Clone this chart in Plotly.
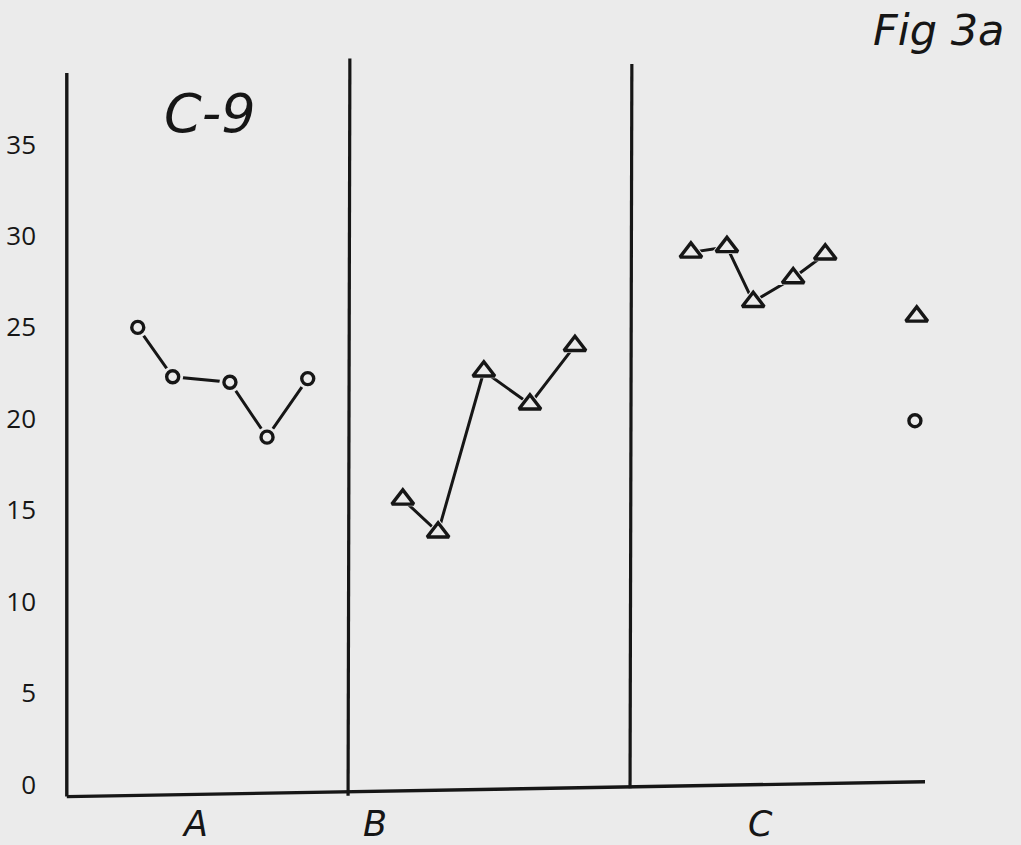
import plotly.graph_objects as go

# ---- data ----
categories = ["A", "B", "C"]
category_pos = [3.56, 8.56, 19.25]
y_ticks = [0, 5, 10, 15, 20, 25, 30, 35]

a_x = [1.97, 2.94, 4.53, 5.56, 6.69]
a_y = [25.0, 22.3, 22.0, 19.0, 22.2]

b_x = [9.33, 10.31, 11.58, 12.86, 14.11]
b_y = [15.6, 13.8, 22.6, 20.8, 24.0]

c_x = [17.33, 18.33, 19.06, 20.17, 21.06]
c_y = [29.1, 29.4, 26.4, 27.7, 29.0]

c_lone_tri_x = [23.6]
c_lone_tri_y = [25.6]
c_lone_circ_x = [23.55]
c_lone_circ_y = [19.9]

dividers = [7.86, 15.69]

BG = "#ebebeb"
INK = "#161616"
FONT = "DejaVu Sans"
TICKFONT = "Open Sans"

fig = go.Figure()


def add_series(x, y, symbol, size, connect=True):
    if connect:
        fig.add_trace(go.Scatter(x=x, y=y, mode="lines",
                                 line=dict(color=INK, width=3),
                                 cliponaxis=False,
                                 hoverinfo="skip", showlegend=False))
    # halo to leave a small gap between line and marker
    fig.add_trace(go.Scatter(x=x, y=y, mode="markers",
                             marker=dict(symbol=symbol, size=size + 9, color=BG,
                                         line=dict(width=0)),
                             cliponaxis=False,
                             hoverinfo="skip", showlegend=False))
    fig.add_trace(go.Scatter(x=x, y=y, mode="markers",
                             marker=dict(symbol=symbol, size=size, color=BG,
                                         line=dict(color=INK, width=3.4)),
                             cliponaxis=False,
                             showlegend=False))


add_series(a_x, a_y, "circle", 12)
add_series(b_x, b_y, "triangle-up", 19)
add_series(c_x, c_y, "triangle-up", 19)
add_series(c_lone_tri_x, c_lone_tri_y, "triangle-up", 19, connect=False)
add_series(c_lone_circ_x, c_lone_circ_y, "circle", 12, connect=False)

shapes = []
# left axis line
shapes.append(dict(type="line", x0=0, x1=0, y0=-0.65, y1=38.9,
                   line=dict(color=INK, width=3.4)))
# divider lines
shapes.append(dict(type="line", x0=dividers[0] - 0.05, x1=dividers[0], y0=-0.6, y1=39.7,
                   line=dict(color=INK, width=3.2)))
shapes.append(dict(type="line", x0=dividers[1] - 0.05, x1=dividers[1], y0=-0.2, y1=39.4,
                   line=dict(color=INK, width=3.2)))
# baseline (slightly slanted, as drawn)
shapes.append(dict(type="line", x0=0, x1=23.83, y0=-0.65, y1=0.16,
                   line=dict(color=INK, width=3.4)))

# condition labels under the baseline
annotations = [
    dict(text=lab, x=xp, y=-0.028, xref="x", yref="paper", showarrow=False,
         xanchor="center", yanchor="middle",
         font=dict(family=FONT, size=35, color=INK, style="italic"))
    for lab, xp in zip(categories, category_pos)
]
annotations += [
    dict(text="C-9", x=3.97, y=36.7, xref="x", yref="y", showarrow=False,
         font=dict(family=FONT, size=54, color=INK, style="italic")),
    dict(text="Fig 3a", x=1.015, y=1.031, xref="paper", yref="paper",
         showarrow=False, xanchor="center", yanchor="middle",
         font=dict(family=FONT, size=43, color=INK, style="italic")),
]

fig.update_layout(
    width=1021, height=845,
    margin=dict(l=56, r=96, t=53, b=42),
    paper_bgcolor=BG, plot_bgcolor=BG,
    shapes=shapes,
    xaxis=dict(range=[-0.3, 23.83], showgrid=False, zeroline=False, showline=False,
               automargin=False, showticklabels=False, ticks=""),
    yaxis=dict(range=[-1.0, 40], showgrid=False, zeroline=False, showline=False,
               automargin=False,
               tickvals=y_ticks, ticktext=[str(v) for v in y_ticks], ticks="",
               ticklabelstandoff=19,
               tickfont=dict(family=TICKFONT, size=26, color=INK)),
    annotations=annotations,
    hovermode=False,
)

fig.write_html(
    "out.html",
    config={"displayModeBar": False},
    post_script="document.body.style.margin='0';document.body.style.background='%s';" % BG,
)
